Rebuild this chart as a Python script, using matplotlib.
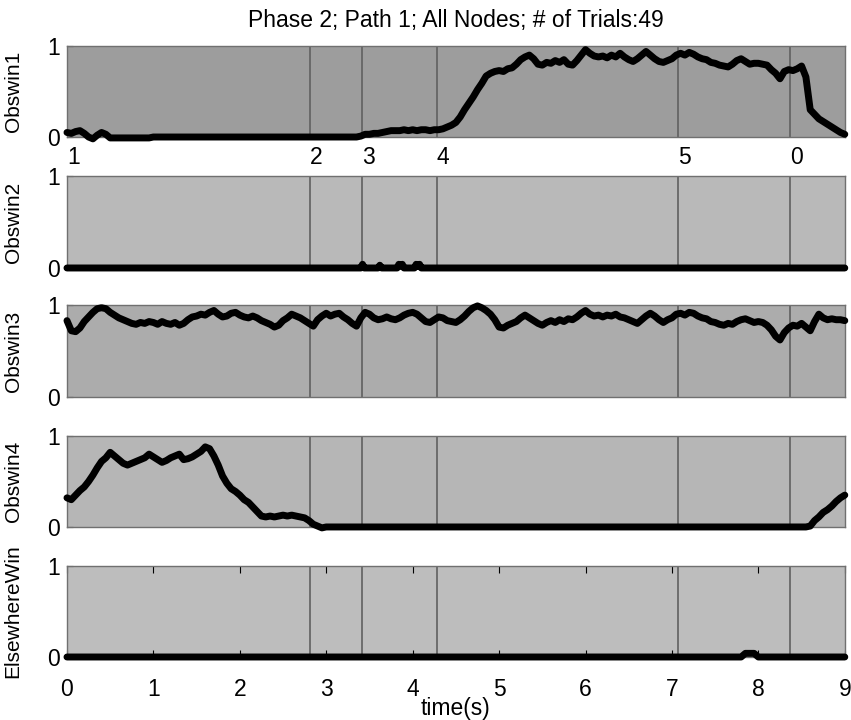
import numpy as np
import matplotlib.pyplot as plt

plt.rcParams['font.family'] = ['Liberation Sans', 'DejaVu Sans']

# sample times (0.05 s grid) for the dense traces
t = np.round(np.arange(0, 181) * 0.05, 2)

obswin1 = [
    0.05, 0.04, 0.06, 0.07, 0.04, 0.00, -0.02, 0.02, 0.05, 0.03,
    -0.01, -0.01, -0.01, -0.01, -0.01, -0.01, -0.01, -0.01, -0.01, -0.01,
    0, 0, 0, 0, 0, 0, 0, 0, 0, 0, 0, 0, 0, 0, 0, 0, 0, 0, 0, 0,
    0, 0, 0, 0, 0, 0, 0, 0, 0, 0, 0, 0, 0, 0, 0, 0, 0, 0, 0, 0,
    0, 0, 0, 0, 0, 0, 0, 0, 0.01, 0.03, 0.03, 0.04, 0.04, 0.05, 0.06, 0.07, 0.07, 0.07, 0.08, 0.07,
    0.08, 0.07, 0.08, 0.08, 0.07, 0.08, 0.08, 0.09, 0.11, 0.13, 0.16, 0.22, 0.30, 0.37, 0.44, 0.52, 0.59, 0.67, 0.70, 0.72,
    0.73, 0.72, 0.75, 0.76, 0.80, 0.85, 0.88, 0.90, 0.86, 0.80, 0.79, 0.82, 0.81, 0.84, 0.82, 0.85, 0.80, 0.79, 0.84, 0.90,
    0.96, 0.92, 0.89, 0.88, 0.89, 0.87, 0.90, 0.88, 0.92, 0.88, 0.85, 0.83, 0.86, 0.90, 0.94, 0.90, 0.86, 0.83, 0.82, 0.84,
    0.86, 0.90, 0.92, 0.90, 0.93, 0.91, 0.88, 0.86, 0.85, 0.82, 0.81, 0.79, 0.78, 0.77, 0.80, 0.84, 0.86, 0.83, 0.80, 0.81,
    0.81, 0.80, 0.79, 0.74, 0.70, 0.64, 0.72, 0.74, 0.73, 0.75, 0.78, 0.66, 0.30, 0.25, 0.20, 0.17, 0.14, 0.11, 0.08, 0.05,
    0.03,
]

obswin3 = [
    0.83, 0.72, 0.71, 0.75, 0.82, 0.87, 0.92, 0.96, 0.97, 0.96, 0.92, 0.89, 0.86, 0.84, 0.82, 0.80, 0.79, 0.81, 0.80, 0.82,
    0.81, 0.79, 0.82, 0.80, 0.79, 0.81, 0.78, 0.80, 0.84, 0.87, 0.88, 0.90, 0.89, 0.92, 0.94, 0.90, 0.87, 0.88, 0.91, 0.92,
    0.89, 0.87, 0.86, 0.88, 0.86, 0.83, 0.81, 0.79, 0.76, 0.78, 0.83, 0.86, 0.90, 0.88, 0.86, 0.83, 0.80, 0.77, 0.84, 0.88,
    0.91, 0.88, 0.90, 0.91, 0.87, 0.84, 0.80, 0.77, 0.86, 0.92, 0.90, 0.86, 0.84, 0.85, 0.87, 0.85, 0.84, 0.86, 0.89, 0.91,
    0.92, 0.90, 0.86, 0.82, 0.81, 0.84, 0.87, 0.86, 0.83, 0.82, 0.81, 0.84, 0.88, 0.93, 0.97, 0.99, 0.97, 0.94, 0.90, 0.84,
    0.76, 0.75, 0.78, 0.80, 0.82, 0.86, 0.89, 0.86, 0.83, 0.80, 0.78, 0.81, 0.83, 0.81, 0.84, 0.82, 0.85, 0.84, 0.87, 0.91,
    0.94, 0.90, 0.88, 0.89, 0.87, 0.89, 0.88, 0.90, 0.87, 0.86, 0.84, 0.82, 0.80, 0.84, 0.88, 0.91, 0.88, 0.84, 0.81, 0.84,
    0.86, 0.90, 0.91, 0.89, 0.92, 0.91, 0.88, 0.86, 0.85, 0.82, 0.81, 0.79, 0.78, 0.80, 0.79, 0.82, 0.84, 0.85, 0.83, 0.81,
    0.82, 0.81, 0.78, 0.73, 0.66, 0.62, 0.70, 0.75, 0.78, 0.77, 0.80, 0.76, 0.72, 0.82, 0.90, 0.86, 0.84, 0.85, 0.84, 0.84,
    0.83,
]

obswin4 = [
    0.32, 0.30, 0.35, 0.40, 0.44, 0.50, 0.57, 0.65, 0.72, 0.76, 0.82, 0.78, 0.74, 0.70, 0.68, 0.70, 0.72, 0.74, 0.76, 0.80,
    0.77, 0.74, 0.71, 0.73, 0.76, 0.78, 0.80, 0.74, 0.75, 0.77, 0.80, 0.83, 0.88, 0.86, 0.78, 0.68, 0.56, 0.48, 0.42, 0.39,
    0.35, 0.30, 0.27, 0.22, 0.17, 0.12, 0.11, 0.12, 0.11, 0.12, 0.13, 0.12, 0.13, 0.12, 0.11, 0.10, 0.07, 0.03, 0.01, -0.01,
    0, 0, 0, 0, 0, 0, 0, 0, 0, 0, 0, 0, 0, 0, 0, 0, 0, 0, 0, 0,
    0, 0, 0, 0, 0, 0, 0, 0, 0, 0, 0, 0, 0, 0, 0, 0, 0, 0, 0, 0,
    0, 0, 0, 0, 0, 0, 0, 0, 0, 0, 0, 0, 0, 0, 0, 0, 0, 0, 0, 0,
    0, 0, 0, 0, 0, 0, 0, 0, 0, 0, 0, 0, 0, 0, 0, 0, 0, 0, 0, 0,
    0, 0, 0, 0, 0, 0, 0, 0, 0, 0, 0, 0, 0, 0, 0, 0, 0, 0, 0, 0,
    0, 0, 0, 0, 0, 0, 0, 0, 0, 0, 0, 0, 0.01, 0.07, 0.11, 0.16, 0.19, 0.23, 0.28, 0.32,
    0.35,
]

# sparse traces (mostly zero)
t2 = [0, 3.40, 3.42, 3.44, 3.60, 3.62, 3.64, 3.82, 3.84, 3.86, 3.88, 3.90,
      4.02, 4.04, 4.06, 4.08, 4.10, 9.0]
obswin2 = [0, 0, 0.04, 0, 0, 0.03, 0, 0, 0.04, 0.02, 0.04, 0,
           0, 0.04, 0.02, 0.04, 0, 0]

t5 = [0, 7.80, 7.85, 7.95, 8.00, 9.0]
elsewhere = [0, 0, 0.04, 0.04, 0, 0]

events = [2.81, 3.41, 4.28, 7.07, 8.37]
event_labels = ['1', '2', '3', '4', '5', '0']

panels = [
    (t, obswin1, 'Obswin1', '#9d9d9d'),
    (t2, obswin2, 'Obswin2', '#b9b9b9'),
    (t, obswin3, 'Obswin3', '#acacac'),
    (t, obswin4, 'Obswin4', '#b6b6b6'),
    (t5, elsewhere, 'ElsewhereWin', '#bdbdbd'),
]

# axes rectangles in figure fractions: (bottom, height)
rects = [(0.8097, 0.1264), (0.6278, 0.1278), (0.4486, 0.1278),
         (0.2681, 0.1264), (0.0875, 0.1264)]

FS = 16.5

fig = plt.figure(figsize=(8.51, 7.2), dpi=100)
axes = []
for (tx, vals, name, bg), (b, h) in zip(panels, rects):
    ax = fig.add_axes([0.0787, b, 0.914, h])
    ax.set_facecolor(bg)
    for ev in events:
        ax.axvline(ev, color='#606060', lw=1.2, zorder=1)
    ax.plot(tx, vals, color='black', lw=5, solid_capstyle='round',
            solid_joinstyle='round', clip_on=False, zorder=3)
    ax.set_xlim(0, 9)
    ax.set_ylim(0, 1)
    ax.set_yticks([0, 1])
    ax.set_ylabel(name, fontsize=15)
    ax.yaxis.set_label_coords(-0.057, 0.5)
    ax.tick_params(axis='y', direction='in', length=4, labelsize=FS, pad=5)
    ax.tick_params(axis='x', direction='in', length=5, top=True, labelsize=FS, pad=15)
    for sp in ax.spines.values():
        sp.set_color('#707070')
        sp.set_linewidth(1.0)
    axes.append(ax)

for ax in axes[:-1]:
    ax.set_xticks([])

axes[-1].set_xticks(range(10))
axes[-1].set_xlabel('time(s)', fontsize=FS, labelpad=-3)

for pos, lab in zip([0] + events, event_labels):
    axes[0].text(pos, -0.23, lab, transform=axes[0].get_xaxis_transform(),
                 ha='left', va='center', fontsize=FS)

axes[0].set_title('Phase 2; Path 1; All Nodes; # of Trials:49', fontsize=FS, pad=14)

plt.savefig('out.png', dpi=100)
